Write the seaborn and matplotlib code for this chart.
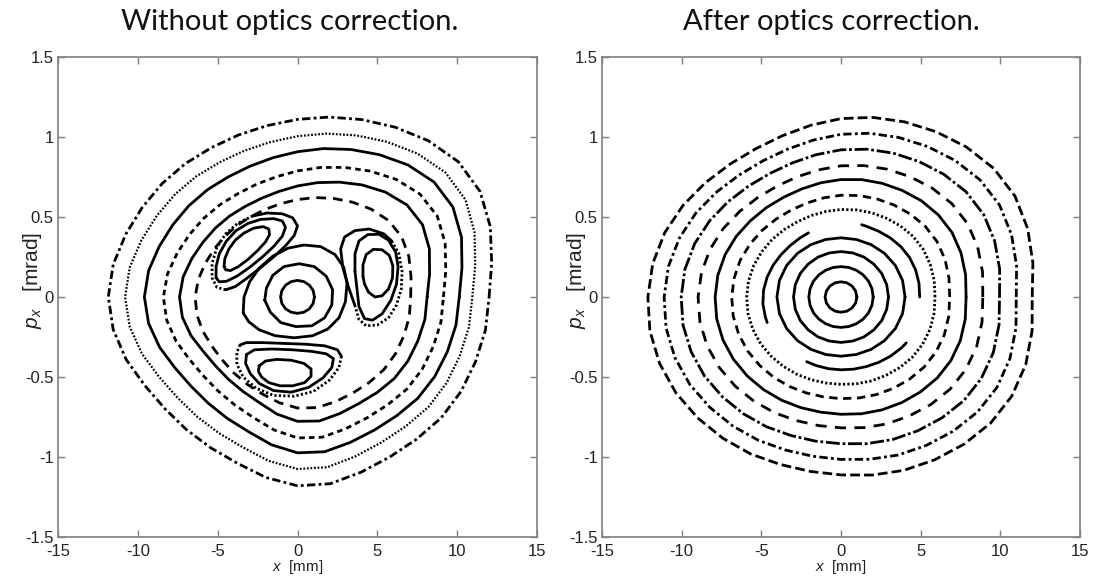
import numpy as np
import matplotlib
matplotlib.use("Agg")
import matplotlib.pyplot as plt
import seaborn as sns

# ---------------------------------------------------------------
# Data.
# Rings: radii in mm-equivalent units (10 mm on x <-> 1 mrad on p)
# at fixed polar angles.  Small loops: x [mm] / v = 10*p points.
# ---------------------------------------------------------------
ANG36 = list(range(0, 360, 10))
ANG24 = list(range(0, 360, 15))
ANG16 = [0, 22.5, 45, 67.5, 90, 112.5, 135, 157.5,
         180, 202.5, 225, 247.5, 270, 292.5, 315, 337.5]

# ---- left panel, outer rings (outermost first) ----
left_r1 = [12.0, 12.35, 12.85, 13.2, 13.15, 12.75, 12.25, 11.8, 11.42, 11.1, 10.88, 10.78,
           10.78, 10.9, 11.05, 11.22, 11.45, 11.72, 11.85, 11.72, 11.42, 11.05, 10.85, 10.82,
           10.88, 11.05, 11.45, 11.8, 11.85, 11.65, 11.55, 11.6, 11.75, 11.82, 11.86, 11.95]
left_r2 = [10.95, 11.3, 11.8, 12.15, 12.1, 11.7, 11.2, 10.75, 10.37, 10.05, 9.83, 9.73,
           9.73, 9.85, 10.0, 10.17, 10.4, 10.67, 10.8, 10.67, 10.37, 10.0, 9.8, 9.77,
           9.83, 10.0, 10.4, 10.75, 10.8, 10.6, 10.5, 10.55, 10.7, 10.77, 10.81, 10.9]
left_r3 = [10.13, 10.46, 10.93, 11.24, 11.17, 10.77, 10.27, 9.81, 9.42, 9.08, 8.84, 8.70,
           8.67, 8.76, 8.88, 9.02, 9.22, 9.47, 9.59, 9.47, 9.19, 8.86, 8.69, 8.68,
           8.77, 8.96, 9.38, 9.74, 9.82, 9.67, 9.61, 9.68, 9.84, 9.93, 9.99, 10.08]
left_r4 = [9.14, 9.43, 9.84, 10.11, 10.01, 9.60, 9.09, 8.62, 8.22, 7.88, 7.63, 7.50,
           7.46, 7.54, 7.66, 7.81, 8.02, 8.27, 8.40, 8.32, 8.09, 7.81, 7.68, 7.70,
           7.81, 8.03, 8.44, 8.81, 8.90, 8.77, 8.72, 8.79, 8.95, 9.02, 9.05, 9.12]
left_r5 = [8.12, 8.40, 8.79, 9.04, 8.95, 8.56, 8.09, 7.64, 7.26, 6.94, 6.70, 6.57,
           6.54, 6.61, 6.71, 6.84, 7.04, 7.27, 7.39, 7.32, 7.09, 6.81, 6.70, 6.72,
           6.82, 7.02, 7.43, 7.77, 7.87, 7.75, 7.69, 7.78, 7.92, 7.99, 8.02, 8.10]
left_r6 = [7.09, 7.22, 7.42, 7.53, 7.44, 7.17, 6.85, 6.56, 6.31, 6.09, 5.93, 5.84,
           5.81, 5.86, 5.92, 6.02, 6.15, 6.31, 6.41, 6.40, 6.30, 6.18, 6.14, 6.20,
           6.30, 6.45, 6.70, 6.94, 7.02, 6.96, 6.93, 6.98, 7.06, 7.09, 7.09, 7.11]

# ---- left panel, central loops ----
core_r = [1.06, 1.06, 1.05, 1.04, 1.04, 1.04, 1.05, 1.06,
          1.06, 1.06, 1.05, 1.03, 1.02, 1.03, 1.05, 1.06]
core_mid_x = [-2.05, -1.95, -1.55, -0.85, 0.1, 1.05, 1.8, 2.2, 2.15, 1.7, 0.9, -0.1, -1.05, -1.7]
core_mid_v = [-0.2, 0.55, 1.35, 1.9, 2.08, 1.9, 1.3, 0.45, -0.5, -1.3, -1.8, -1.85, -1.6, -0.95]
core_out_x = [-3.4, -3.35, -3.0, -2.4, -1.55, -0.6, 0.4, 1.45, 2.35, 2.9, 3.1, 3.0, 2.6, 1.9,
              0.95, -0.2, -1.4, -2.4, -3.05]
core_out_v = [-1.0, 0.0, 0.95, 1.8, 2.55, 3.05, 3.25, 3.15, 2.65, 1.85, 0.85, -0.3, -1.3, -2.0,
              -2.42, -2.55, -2.42, -2.05, -1.55]

# ---- left panel, upper-left island ----
ul_in_x = [-4.6, -4.55, -4.3, -3.9, -3.35, -2.75, -2.15, -1.8, -1.75, -2.0, -2.5, -3.1, -3.7, -4.2, -4.5]
ul_in_v = [1.9, 2.4, 3.0, 3.55, 4.0, 4.3, 4.4, 4.25, 3.9, 3.45, 2.9, 2.35, 1.9, 1.65, 1.7]
ul_mid_x = [-5.1, -5.1, -4.9, -4.45, -3.85, -3.1, -2.3, -1.5, -0.95, -0.75, -0.95, -1.5, -2.2,
            -3.0, -3.8, -4.45, -4.9]
ul_mid_v = [1.2, 1.9, 2.7, 3.5, 4.15, 4.6, 4.85, 4.9, 4.75, 4.35, 3.8, 3.15, 2.5, 1.85, 1.3, 0.98, 0.95]
ul_out_dot_x = [-4.5, -5.05, -5.35, -5.35, -5.05, -4.5, -3.75, -2.85]
ul_out_dot_v = [0.45, 0.6, 1.2, 2.1, 3.1, 3.95, 4.6, 5.05]
ul_out_solid_x = [-2.85, -1.9, -0.95, -0.3, 0.0, -0.2, -0.75, -1.5, -2.35, -3.2, -3.9, -4.5]
ul_out_solid_v = [5.05, 5.25, 5.2, 4.95, 4.45, 3.85, 3.2, 2.5, 1.8, 1.15, 0.65, 0.45]

# ---- left panel, right island ----
ri_in_x = [4.1, 4.1, 4.3, 4.75, 5.3, 5.75, 5.97, 5.95, 5.7, 5.3, 4.85, 4.45, 4.2]
ri_in_v = [1.3, 2.0, 2.65, 2.98, 2.95, 2.6, 1.95, 1.2, 0.5, 0.08, 0.0, 0.3, 0.8]
ri_mid_x = [3.6, 3.6, 3.85, 4.4, 5.1, 5.7, 6.15, 6.3, 6.2, 5.85, 5.3, 4.7, 4.2, 3.85]
ri_mid_v = [1.6, 2.7, 3.5, 3.9, 3.92, 3.55, 2.8, 1.9, 0.8, -0.2, -1.05, -1.45, -1.35, -0.6]
ri_out_solid_x = [3.6, 3.2, 2.85, 2.7, 2.95, 3.6, 4.5, 5.4, 5.9]
ri_out_solid_v = [-0.55, 0.6, 1.8, 3.0, 3.75, 4.15, 4.25, 3.95, 3.5]
ri_out_dot_x = [5.9, 6.35, 6.55, 6.5, 6.2, 5.7, 5.0, 4.3, 3.85, 3.6]
ri_out_dot_v = [3.5, 2.7, 1.6, 0.5, -0.5, -1.3, -1.75, -1.8, -1.4, -0.55]

# ---- left panel, bottom island ----
bi_in_x = [-2.4, -2.0, -1.3, -0.4, 0.4, 0.85, 0.85, 0.45, -0.3, -1.1, -1.8, -2.25, -2.45]
bi_in_v = [-4.3, -4.0, -3.9, -3.95, -4.15, -4.5, -4.95, -5.35, -5.55, -5.55, -5.35, -5.0, -4.65]
bi_mid_x = [-3.2, -2.7, -1.6, -0.3, 0.9, 1.8, 2.25, 2.15, 1.6, 0.7, -0.4, -1.5, -2.4, -2.95, -3.25]
bi_mid_v = [-3.6, -3.3, -3.25, -3.3, -3.4, -3.55, -3.85, -4.4, -5.05, -5.65, -5.95, -5.85, -5.4, -4.8, -4.15]
bi_out_solid_x = [-3.6, -3.2, -2.2, -0.9, 0.5, 1.7, 2.5, 2.75]
bi_out_solid_v = [-3.0, -2.85, -2.85, -2.9, -2.95, -3.05, -3.3, -3.7]
bi_out_dot_x = [2.75, 2.6, 2.0, 1.0, -0.2, -1.5, -2.6, -3.4, -3.8, -3.8, -3.6]
bi_out_dot_v = [-3.7, -4.4, -5.2, -5.9, -6.2, -6.15, -5.7, -5.0, -4.2, -3.45, -3.0]

# ---- right panel, rings (outermost first) ----
right_r1 = [12.0, 12.23, 12.47, 12.61, 12.51, 12.24, 11.93, 11.65, 11.40, 11.15, 10.90, 10.73,
            10.70, 10.84, 11.11, 11.45, 11.77, 12.0, 12.12, 12.18, 12.12, 11.97, 11.75, 11.53,
            11.33, 11.14, 11.07, 11.12, 11.30, 11.53, 11.75, 12.01, 12.26, 12.38, 12.34, 12.18]
right_r2 = [11.0, 11.19, 11.39, 11.49, 11.39, 11.14, 10.86, 10.61, 10.39, 10.17, 9.96, 9.83,
            9.82, 9.95, 10.20, 10.51, 10.79, 11.0, 11.1, 11.15, 11.09, 10.95, 10.74, 10.54,
            10.35, 10.18, 10.11, 10.15, 10.30, 10.51, 10.71, 10.95, 11.18, 11.30, 11.28, 11.15]
right_r3 = [9.95, 10.11, 10.26, 10.33, 10.24, 10.02, 9.78, 9.57, 9.38, 9.20, 9.03, 8.92,
            8.92, 9.04, 9.26, 9.52, 9.77, 9.95, 10.03, 10.07, 10.01, 9.89, 9.71, 9.53,
            9.36, 9.21, 9.15, 9.17, 9.31, 9.48, 9.65, 9.86, 10.07, 10.17, 10.17, 10.07]
right_r4 = [8.90, 9.02, 9.13, 9.17, 9.08, 8.89, 8.68, 8.50, 8.34, 8.20, 8.07, 8.00,
            8.01, 8.12, 8.31, 8.54, 8.74, 8.89, 8.97, 8.99, 8.94, 8.82, 8.67, 8.50,
            8.35, 8.22, 8.16, 8.18, 8.29, 8.44, 8.58, 8.77, 8.95, 9.05, 9.06, 8.99]
right_r5 = [7.85, 7.94, 8.02, 8.05, 7.98, 7.85, 7.69, 7.56, 7.45, 7.34, 7.25, 7.19,
            7.20, 7.29, 7.42, 7.59, 7.74, 7.85, 7.90, 7.92, 7.88, 7.79, 7.68, 7.56,
            7.45, 7.36, 7.31, 7.33, 7.41, 7.51, 7.62, 7.75, 7.88, 7.96, 7.97, 7.92]
right_r6 = [6.82, 6.88, 6.94, 6.95, 6.89, 6.77, 6.64, 6.53, 6.44, 6.36, 6.29, 6.25,
            6.27, 6.35, 6.47, 6.60, 6.73, 6.81, 6.86, 6.87, 6.83, 6.76, 6.66, 6.56,
            6.46, 6.38, 6.34, 6.35, 6.41, 6.49, 6.59, 6.70, 6.81, 6.88, 6.90, 6.87]
right_r7 = [5.90, 5.94, 5.96, 5.96, 5.90, 5.80, 5.69, 5.60, 5.53, 5.47, 5.43, 5.42,
            5.44, 5.52, 5.62, 5.72, 5.82, 5.89, 5.92, 5.93, 5.89, 5.83, 5.74, 5.65,
            5.57, 5.50, 5.46, 5.46, 5.51, 5.58, 5.65, 5.75, 5.85, 5.91, 5.94, 5.93]
# broken ring: three arcs (angles in degrees, radii)
arc_a_ang = [0, 10, 20, 30, 40, 50, 60, 70, 74]
arc_a_r = [4.94, 4.97, 4.98, 4.96, 4.9, 4.82, 4.74, 4.7, 4.7]
arc_b_ang = [117, 125, 135, 145, 155, 165, 175, 185, 195, 199]
arc_b_r = [4.5, 4.5, 4.53, 4.6, 4.7, 4.8, 4.88, 4.92, 4.91, 4.9]
arc_c_ang = [242, 250, 260, 270, 280, 290, 300, 310, 320, 325]
arc_c_r = [4.58, 4.56, 4.55, 4.55, 4.58, 4.63, 4.72, 4.83, 4.95, 5.0]
right_r9 = [4.02, 4.0, 3.94, 3.86, 3.78, 3.72, 3.70, 3.72, 3.78, 3.86, 3.94, 4.0,
            4.02, 4.0, 3.94, 3.86, 3.78, 3.72, 3.70, 3.72, 3.78, 3.86, 3.94, 4.0]
right_r10 = [2.98, 2.97, 2.95, 2.91, 2.88, 2.85, 2.84, 2.85, 2.88, 2.91, 2.95, 2.97,
             2.98, 2.97, 2.95, 2.91, 2.88, 2.85, 2.84, 2.85, 2.88, 2.91, 2.95, 2.97]
right_r11 = [2.02, 2.01, 1.99, 1.96, 1.93, 1.91, 1.90, 1.91, 1.93, 1.96, 1.99, 2.01,
             2.02, 2.01, 1.99, 1.96, 1.93, 1.91, 1.90, 1.91, 1.93, 1.96, 1.99, 2.01]
right_r12 = [1.00, 0.99, 0.975, 0.96, 0.95, 0.96, 0.975, 0.99,
             1.00, 0.99, 0.975, 0.96, 0.95, 0.96, 0.975, 0.99]

x_ticks = [-15, -10, -5, 0, 5, 10, 15]
x_tick_labels = ["-15", "-10", "-5", "0", "5", "10", "15"]
y_ticks = [-1.5, -1, -0.5, 0, 0.5, 1, 1.5]
y_tick_labels = ["-1.5", "-1", "-0.5", "0", "0.5", "1", "1.5"]
titles = ["Without optics correction.", "After optics correction."]

# line styles
DASHDOT = (0, (3, 1.2, 1, 1.2))
FINEDOT = (0, (0.8, 0.8))
SHORTDASH = (0, (2, 1.5))
DASHED = (0, (3.5, 2.5))
LW = 2.0


def polar_to_xp(angles, radii, close=True):
    a = np.deg2rad(np.asarray(angles, dtype=float))
    r = np.asarray(radii, dtype=float)
    x = r * np.cos(a)
    p = r * np.sin(a) / 10.0  # 10 mm on the x axis <-> 1 mrad on the p axis
    if close:
        x, p = np.append(x, x[0]), np.append(p, p[0])
    return x, p


def xv_to_xp(x, v, close=True):
    x = np.asarray(x, dtype=float)
    p = np.asarray(v, dtype=float) / 10.0
    if close:
        x, p = np.append(x, x[0]), np.append(p, p[0])
    return x, p


def draw(ax, x, p, ls="-", lw=LW):
    sns.lineplot(x=x, y=p, sort=False, estimator=None, ax=ax, color="black",
                 linewidth=lw, linestyle=ls, legend=False,
                 dash_capstyle="butt", solid_capstyle="round", solid_joinstyle="round")


sns.set_theme(style="white")
plt.rcParams["font.family"] = ["Liberation Sans", "DejaVu Sans"]
plt.rcParams["axes.unicode_minus"] = False
plt.rcParams["mathtext.fontset"] = "custom"
plt.rcParams["mathtext.it"] = "Liberation Sans:italic"
plt.rcParams["mathtext.rm"] = "Liberation Sans"

fig = plt.figure(figsize=(10.95, 5.76), dpi=100)
fig.patch.set_facecolor("white")
ax1 = fig.add_axes([58 / 1095, 1 - 537 / 576, 479 / 1095, 480 / 576])
ax2 = fig.add_axes([602 / 1095, 1 - 537 / 576, 478 / 1095, 480 / 576])

# ---- left panel ----
draw(ax1, *polar_to_xp(ANG36, left_r1), ls=DASHDOT)
draw(ax1, *polar_to_xp(ANG36, left_r2), ls=FINEDOT, lw=1.6)
draw(ax1, *polar_to_xp(ANG36, left_r3))
draw(ax1, *polar_to_xp(ANG36, left_r4), ls=SHORTDASH)
draw(ax1, *polar_to_xp(ANG36, left_r5))
draw(ax1, *polar_to_xp(ANG36, left_r6), ls=DASHED)

draw(ax1, *polar_to_xp(ANG16, core_r))
draw(ax1, *xv_to_xp(core_mid_x, core_mid_v))
draw(ax1, *xv_to_xp(core_out_x, core_out_v))

for xs, vs in [(ul_in_x, ul_in_v), (ul_mid_x, ul_mid_v),
               (ri_in_x, ri_in_v), (ri_mid_x, ri_mid_v),
               (bi_in_x, bi_in_v), (bi_mid_x, bi_mid_v)]:
    draw(ax1, *xv_to_xp(xs, vs))

for xs, vs in [(ul_out_solid_x, ul_out_solid_v), (ri_out_solid_x, ri_out_solid_v),
               (bi_out_solid_x, bi_out_solid_v)]:
    draw(ax1, *xv_to_xp(xs, vs, close=False))
for xs, vs in [(ul_out_dot_x, ul_out_dot_v), (ri_out_dot_x, ri_out_dot_v),
               (bi_out_dot_x, bi_out_dot_v)]:
    draw(ax1, *xv_to_xp(xs, vs, close=False), ls=FINEDOT)

# ---- right panel ----
draw(ax2, *polar_to_xp(ANG36, right_r1), ls=(0, (3.5, 1.5)))
draw(ax2, *polar_to_xp(ANG36, right_r2), ls=DASHDOT)
draw(ax2, *polar_to_xp(ANG36, right_r3), ls=(0, (5, 1, 1, 1)))
draw(ax2, *polar_to_xp(ANG36, right_r4), ls=(0, (4, 3)))
draw(ax2, *polar_to_xp(ANG36, right_r5))
draw(ax2, *polar_to_xp(ANG36, right_r6), ls=(0, (3, 2)))
draw(ax2, *polar_to_xp(ANG36, right_r7), ls=FINEDOT)
for ang, rad in [(arc_a_ang, arc_a_r), (arc_b_ang, arc_b_r), (arc_c_ang, arc_c_r)]:
    draw(ax2, *polar_to_xp(ang, rad, close=False))
for rad in [right_r9, right_r10, right_r11]:
    draw(ax2, *polar_to_xp(ANG24, rad))
draw(ax2, *polar_to_xp(ANG16, right_r12))

for ax in (ax1, ax2):
    ax.set_xlim(-15, 15)
    ax.set_ylim(-1.5, 1.5)
    ax.set_xticks(x_ticks)
    ax.set_xticklabels(x_tick_labels)
    ax.set_yticks(y_ticks)
    ax.set_yticklabels(y_tick_labels)
    ax.tick_params(direction="in", length=5, width=1, colors="#808080",
                   labelcolor="#222222", labelsize=12, top=True, right=True,
                   bottom=True, left=True)
    ax.tick_params(axis="x", pad=5)
    ax.tick_params(axis="y", pad=3)
    for s in ax.spines.values():
        s.set_color("#808080")
        s.set_linewidth(1.2)
    ax.set_xlabel(r"$x$  [mm]", fontsize=11, color="#222222")
    ax.xaxis.set_label_coords(0.5, -0.044)
    ax.set_ylabel(r"$p_x$   [mrad]", fontsize=15, color="#222222")
    ax.yaxis.set_label_coords(-0.03, 0.535)
    ax.set_facecolor("white")
    ax.grid(False)

fig.text(290 / 1095, 1 - 22 / 576, titles[0], ha="center", va="center",
         fontsize=21, family="Lato", color="#111111")
fig.text(831 / 1095, 1 - 22 / 576, titles[1], ha="center", va="center",
         fontsize=21, family="Lato", color="#111111")

fig.savefig("out.png", dpi=100, facecolor="white")
